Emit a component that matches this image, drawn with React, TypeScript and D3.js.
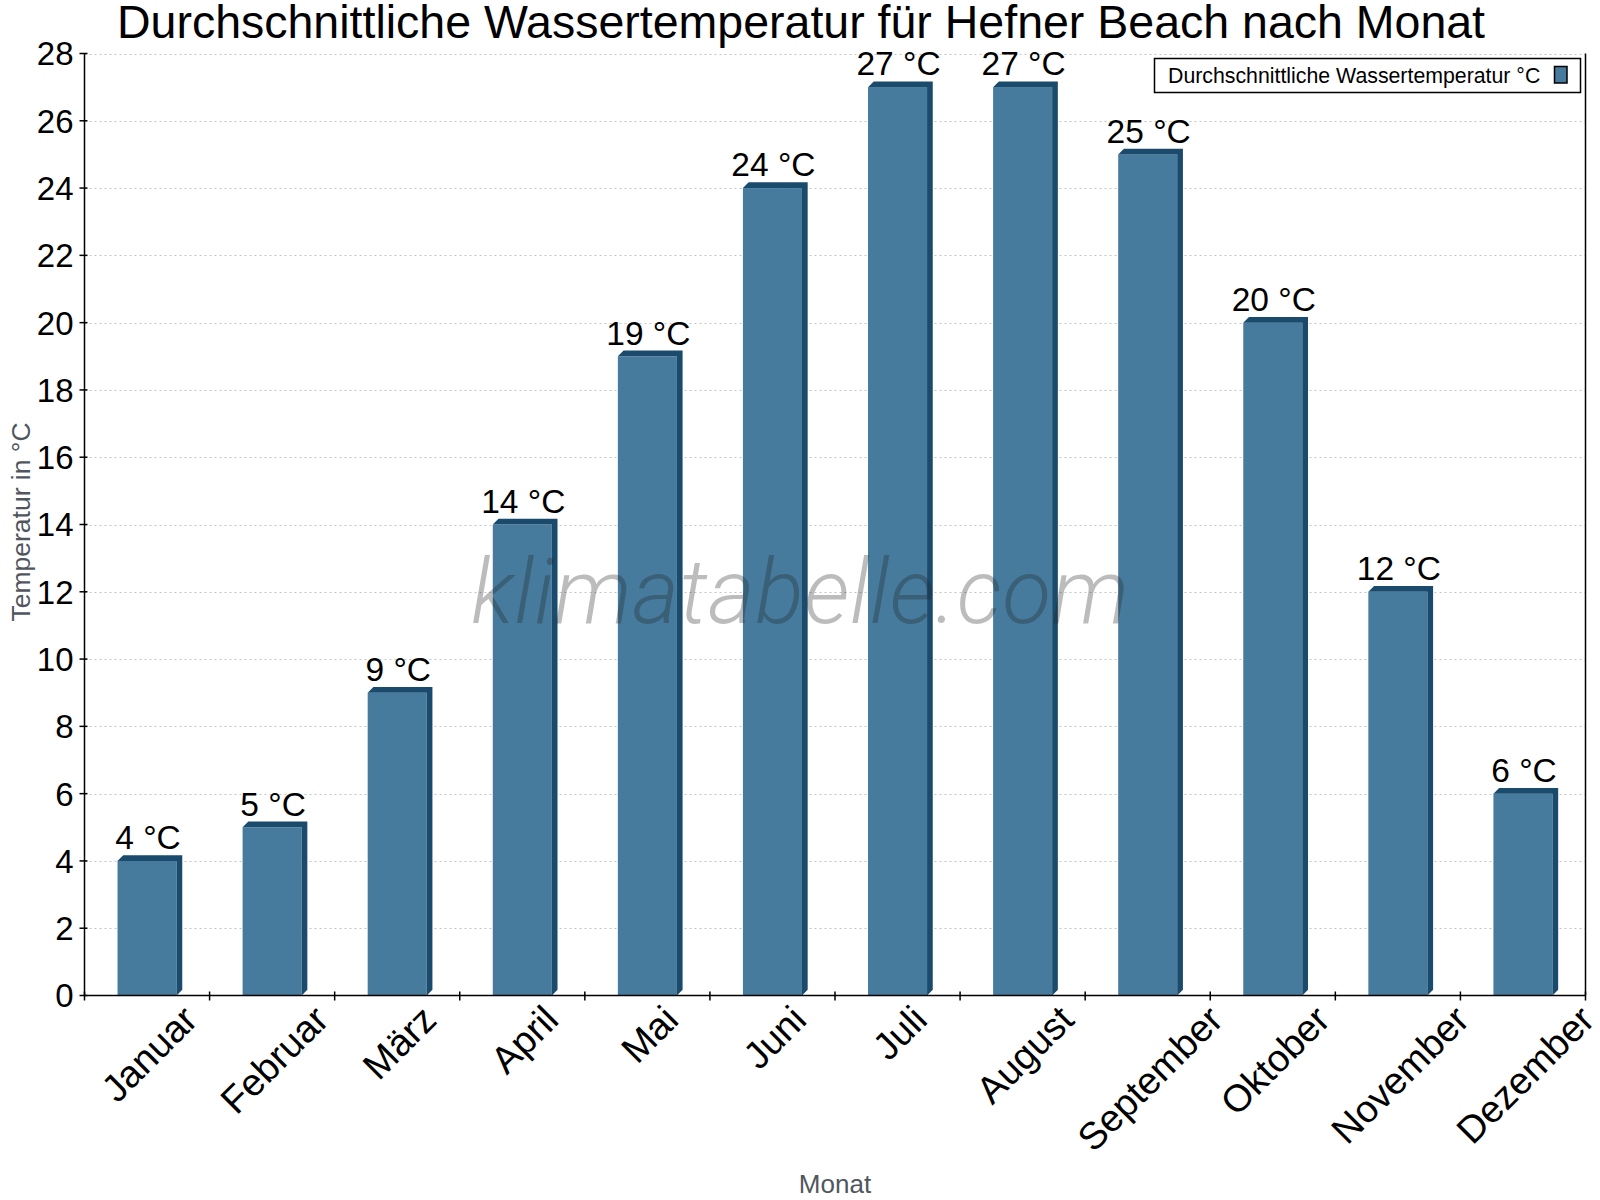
import React, { useEffect, useRef } from "react";
import * as d3 from "d3";

const months = [
  "Januar", "Februar", "März", "April", "Mai", "Juni",
  "Juli", "August", "September", "Oktober", "November", "Dezember",
];
const waterTemp = [4, 5, 9, 14, 19, 24, 27, 27, 25, 20, 12, 6];
const yTicks = [0, 2, 4, 6, 8, 10, 12, 14, 16, 18, 20, 22, 24, 26, 28];

const width = 1600;
const height = 1200;
const plot = { left: 84.5, right: 1585.5, top: 53.5, bottom: 995.5 };

const font = "'Liberation Sans', Arial, sans-serif";
const barFront = "#467b9e";
const barDark = "#1a4b6d";
const depth = 5.7;

export default function App() {
  const ref = useRef<SVGSVGElement>(null);

  useEffect(() => {
    document.body.style.margin = "0";
    const svg = d3.select(ref.current);
    svg.selectAll("*").remove();

    const x = d3.scaleBand<string>().domain(months).range([plot.left, plot.right]).padding(0);
    const y = d3.scaleLinear().domain([0, 28]).range([plot.bottom, plot.top]);

    svg.append("rect").attr("width", width).attr("height", height).attr("fill", "#fff");

    // dotted grid
    svg.append("g")
      .selectAll("line")
      .data(yTicks.filter(t => t > 0))
      .join("line")
      .attr("x1", plot.left)
      .attr("x2", plot.right)
      .attr("y1", d => Math.round(y(d)) + 0.5)
      .attr("y2", d => Math.round(y(d)) + 0.5)
      .attr("stroke", "#c4c4c4")
      .attr("stroke-width", 1)
      .attr("stroke-dasharray", "2,3");

    // 3D bars
    const bw = x.bandwidth() * 0.472;
    const bars = svg.append("g")
      .selectAll("g")
      .data(months.map((m, i) => ({ m, v: waterTemp[i] })))
      .join("g");

    bars.append("rect")
      .attr("x", d => x(d.m)! + (x.bandwidth() - bw) / 2)
      .attr("y", d => y(d.v))
      .attr("width", bw)
      .attr("height", d => y(0) - y(d.v))
      .attr("fill", barFront);

    bars.append("path")
      .attr("fill", barDark)
      .attr("d", d => {
        const x0 = x(d.m)! + (x.bandwidth() - bw) / 2;
        const x1 = x0 + bw;
        const yt = y(d.v);
        const yb = y(0);
        return `M${x1},${yt}L${x1 + depth},${yt - depth}L${x1 + depth},${yb - depth}L${x1},${yb}Z` +
          `M${x0},${yt}L${x0 + depth},${yt - depth}L${x1 + depth},${yt - depth}L${x1},${yt}Z`;
      });

    // value labels
    bars.append("text")
      .attr("x", d => x(d.m)! + x.bandwidth() / 2 + 1)
      .attr("y", d => y(d.v) - depth - 6)
      .attr("text-anchor", "middle")
      .attr("font-family", font)
      .attr("font-size", 33.5)
      .attr("fill", "#000")
      .text(d => `${d.v} °C`);

    // watermark over the bars
    svg.append("text")
      .attr("x", 471)
      .attr("y", 623)
      .attr("font-family", "Roboto, 'Open Sans', sans-serif")
      .attr("font-style", "italic")
      .attr("font-weight", 300)
      .attr("font-size", 90)
      .attr("fill", "#222")
      .attr("fill-opacity", 0.3)
      .attr("textLength", 658)
      .text("klimatabelle.com");

    // axes
    const axes = svg.append("g").attr("stroke", "#000").attr("stroke-width", 1.5);
    axes.append("line").attr("x1", plot.left).attr("x2", plot.left).attr("y1", plot.top).attr("y2", plot.bottom);
    axes.append("line").attr("x1", plot.right).attr("x2", plot.right).attr("y1", plot.top).attr("y2", plot.bottom);
    axes.append("line").attr("x1", plot.left).attr("x2", plot.right).attr("y1", plot.bottom).attr("y2", plot.bottom);

    axes.selectAll(".yt")
      .data(yTicks)
      .join("line")
      .attr("x1", plot.left - 5)
      .attr("x2", plot.left + 3)
      .attr("y1", d => y(d))
      .attr("y2", d => y(d));

    const xTickPos = months.map(m => x(m)!).concat([plot.right]);
    axes.selectAll(".xt")
      .data(xTickPos)
      .join("line")
      .attr("x1", d => d)
      .attr("x2", d => d)
      .attr("y1", plot.bottom - 4)
      .attr("y2", plot.bottom + 5);

    svg.append("g")
      .selectAll("text")
      .data(yTicks)
      .join("text")
      .attr("x", plot.left - 11)
      .attr("y", d => y(d))
      .attr("dy", "0.36em")
      .attr("text-anchor", "end")
      .attr("font-family", font)
      .attr("font-size", 33)
      .text(d => d);

    // month labels: rotated, box centred under the band, top edge on one line
    const xfs = 38;
    svg.append("g")
      .selectAll("text")
      .data(months)
      .join("text")
      .attr("text-anchor", "middle")
      .attr("dy", "0.35em")
      .attr("font-family", font)
      .attr("font-size", xfs)
      .text(m => m)
      .attr("transform", function (m) {
        const len = (this as SVGTextElement).getComputedTextLength();
        const cx = x(m)! + x.bandwidth() / 2 + 2;
        const cy = 1008 + 0.707 * (len / 2 + 0.17 * xfs);
        return `translate(${cx},${cy}) rotate(-45)`;
      });

    // titles
    svg.append("text")
      .attr("x", 801)
      .attr("y", 37.5)
      .attr("text-anchor", "middle")
      .attr("font-family", font)
      .attr("font-size", 46.5)
      .text("Durchschnittliche Wassertemperatur für Hefner Beach nach Monat");

    svg.append("text")
      .attr("transform", `translate(${30},${522}) rotate(-90)`)
      .attr("text-anchor", "middle")
      .attr("font-family", font)
      .attr("font-size", 26.5)
      .attr("fill", "#50565e")
      .text("Temperatur in °C");

    svg.append("text")
      .attr("x", (plot.left + plot.right) / 2)
      .attr("y", 1193)
      .attr("text-anchor", "middle")
      .attr("font-family", font)
      .attr("font-size", 26)
      .attr("fill", "#50565e")
      .text("Monat");

    // legend
    const lg = svg.append("g");
    lg.append("rect")
      .attr("x", 1154.5).attr("y", 58.5).attr("width", 426).attr("height", 34)
      .attr("fill", "#fff").attr("stroke", "#000").attr("stroke-width", 1.5);
    lg.append("text")
      .attr("x", 1168).attr("y", 83)
      .attr("font-family", font).attr("font-size", 21.3)
      .text("Durchschnittliche Wassertemperatur °C");
    lg.append("rect")
      .attr("x", 1554.5).attr("y", 66.5).attr("width", 12.5).attr("height", 16.5)
      .attr("fill", barFront).attr("stroke", "#000").attr("stroke-width", 1.5);
  }, []);

  return <svg ref={ref} width={width} height={height} style={{ display: "block" }} />;
}
